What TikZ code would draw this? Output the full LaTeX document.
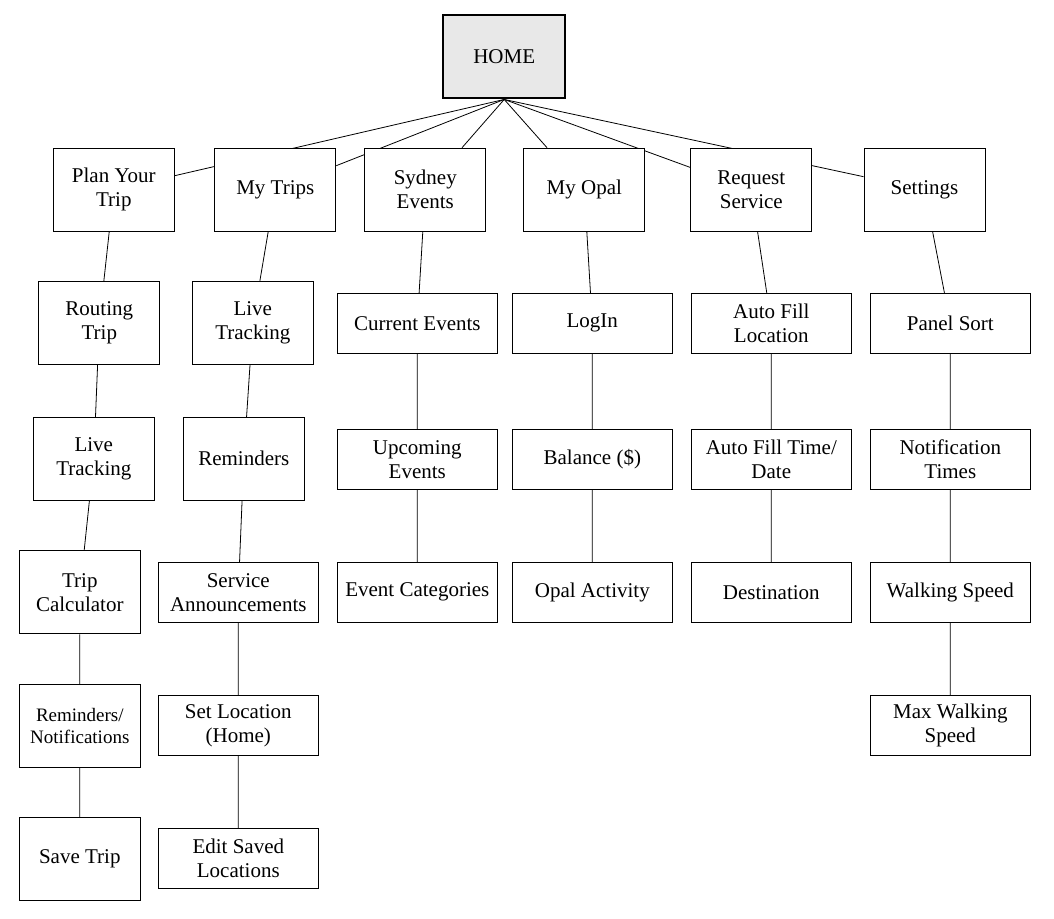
\documentclass[tikz,border=0pt]{standalone}
\usepackage{fontspec}
\setmainfont{Liberation Serif}
\usetikzlibrary{backgrounds}

\tikzset{
  box/.style={draw=black, line width=1pt, fill=white, align=center, inner sep=0pt,
              font=\fontsize{21}{24}\selectfont},
  tallbox/.style={box, minimum width=121pt, minimum height=83pt},
  widebox/.style={box, minimum width=160pt, minimum height=60pt},
  homebox/.style={box, line width=2.5pt, fill=black!9, minimum width=122pt, minimum height=83pt},
  link/.style={draw=black, line width=0.8pt}
}

\begin{document}
\begin{tikzpicture}[x=1pt, y=-1pt]
  \useasboundingbox (0,0) rectangle (1054,918);

  % root
  \node[homebox] (home) at (504.2,56.7) {HOME};

  % first level sections
  \node[tallbox] (plan)     at (113.8,189.7) {Plan Your\\Trip};
  \node[tallbox] (trips)    at (275.3,189.7) {My Trips};
  \node[tallbox] (sydney)   at (425.3,189.7) {Sydney\\Events};
  \node[tallbox] (opal)     at (584.3,189.7) {My Opal};
  \node[tallbox] (request)  at (751.3,189.7) {Request\\Service};
  \node[tallbox] (settings) at (924.5,189.7) {Settings};

  % Plan Your Trip branch
  \node[tallbox] (routing)  at (99.3,322.8) {Routing\\Trip};
  \node[tallbox] (liveA)    at (93.8,458.8) {Live\\Tracking};
  \node[tallbox] (calc)     at (79.8,592.3) {Trip\\Calculator};
  \node[tallbox, font=\fontsize{19}{22}\selectfont] (remnot) at (79.8,725.8) {Reminders/\\Notifications};
  \node[tallbox] (save)     at (79.8,858.8) {Save Trip};

  % My Trips branch
  \node[tallbox] (liveB)    at (252.8,322.8) {Live\\Tracking};
  \node[tallbox] (remind)   at (243.8,458.8) {Reminders};
  \node[widebox] (announce) at (238.3,592.3) {Service\\Announcements};
  \node[widebox] (setloc)   at (238.3,725.3) {Set Location\\(Home)};
  \node[widebox] (editloc)  at (238.3,858.3) {Edit Saved\\Locations};

  % Sydney Events branch
  \node[widebox] (current)  at (417.3,323.3) {Current Events};
  \node[widebox] (upcoming) at (417.3,459.3) {Upcoming\\Events};
  \node[widebox] (category) at (417.3,592.3) {Event Categories};

  % My Opal branch
  \node[widebox] (login)    at (592.3,323.3) {LogIn};
  \node[widebox] (balance)  at (592.3,459.3) {Balance (\$)};
  \node[widebox] (activity) at (592.3,592.3) {Opal Activity};

  % Request Service branch
  \node[widebox] (fillloc)  at (771.3,323.3) {Auto Fill\\Location};
  \node[widebox] (filltime) at (771.3,459.3) {Auto Fill Time/\\Date};
  \node[widebox] (dest)     at (771.3,592.3) {Destination};

  % Settings branch
  \node[widebox] (panel)    at (950.3,323.3) {Panel Sort};
  \node[widebox] (notif)    at (950.3,459.3) {Notification\\Times};
  \node[widebox] (walk)     at (950.3,592.3) {Walking Speed};
  \node[widebox] (maxwalk)  at (950.3,725.3) {Max Walking\\Speed};

  % white page and the connectors, all behind the boxes
  \begin{pgfonlayer}{background}
    \fill[white] (0,0) rectangle (1054,918);
    \foreach \s in {plan,trips,sydney,opal,request,settings}
      \draw[link] (home.south) -- (\s);
    \draw[link] (plan) -- (routing) -- (liveA) -- (calc) -- (remnot) -- (save);
    \draw[link] (trips) -- (liveB) -- (remind) -- (announce) -- (setloc) -- (editloc);
    \draw[link] (sydney) -- (current) -- (upcoming) -- (category);
    \draw[link] (opal) -- (login) -- (balance) -- (activity);
    \draw[link] (request) -- (fillloc) -- (filltime) -- (dest);
    \draw[link] (settings) -- (panel) -- (notif) -- (walk) -- (maxwalk);
  \end{pgfonlayer}
\end{tikzpicture}
\end{document}
